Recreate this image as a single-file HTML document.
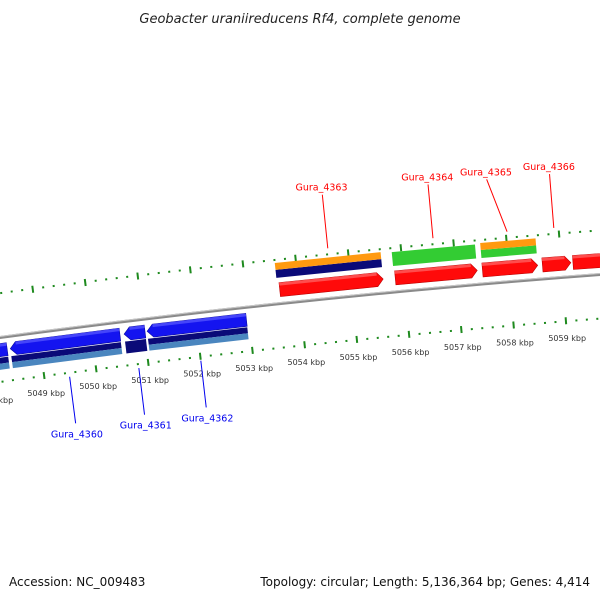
<!DOCTYPE html>
<html><head><meta charset="utf-8">
<style>
html,body{margin:0;padding:0;background:#fff;}
svg{display:block;font-family:"DejaVu Sans","Liberation Sans",sans-serif;}
</style></head>
<body>
<svg id="chart" width="600" height="600" viewBox="0 0 600 600">
<text x="300" y="23" text-anchor="middle" font-size="13" font-style="italic" fill="#222">Geobacter uraniireducens Rf4, complete genome</text>
<text x="9" y="586" font-size="12" fill="#111">Accession: NC_009483</text>
<text x="590" y="586" text-anchor="end" font-size="12" fill="#111">Topology: circular; Length: 5,136,364 bp; Genes: 4,414</text>
<g id="layer"></g>
</svg>
<script>
// ---- data (kbp) ----
const geneNames  = ["prev-gene","Gura_4360","Gura_4361","Gura_4362","Gura_4363","Gura_4364","Gura_4365","Gura_4366","next-gene"];
const geneStart  = [5047.2, 5048.43, 5050.61, 5051.05, 5053.64, 5055.84, 5057.50, 5058.64, 5059.22];
const geneEnd    = [5048.37, 5050.53, 5051.01, 5052.95, 5055.61, 5057.40, 5058.55, 5059.18, 5061.0];
const geneStrand = [-1, -1, -1, -1, 1, 1, 1, 1, 1];
const labelled   = [false, true, true, true, true, true, true, true, false];
// annotation rows (row1 = adjacent to CDS, row2 = outer)
const annStart = [5047.2, 5048.43, 5050.61, 5051.05, 5053.60, 5055.82, 5057.50, 5057.50, 5047.2, 5048.43, 5051.05, 5053.60];
const annEnd   = [5048.37, 5050.53, 5051.01, 5052.95, 5055.61, 5057.40, 5058.55, 5058.55, 5048.37, 5050.53, 5052.95, 5055.61];
const annRow   = [1,1,1,1,1,1,1,2,2,2,2,2];
const annType  = ["navy","navy","navy","navy","navy","green","green","orange","light","light","light","orange"];
const tickStartKbp = 5046;
const tickEndKbp = 5062;

// ---- geometry ----
const CX = 1360, CY = 10396, R = 10150;
const K = 52.7 / R; // rad per kbp
const PHI0 = -0.1150, BP0 = 5052;
function ang(kbp){ return PHI0 + (kbp - BP0) * K; }
function pt(kbp, off){ const a = ang(kbp), r = R + off; return [CX + r*Math.sin(a), CY - r*Math.cos(a)]; }
const NS = "http://www.w3.org/2000/svg";
const layer = document.getElementById('layer');
function mk(tag, attrs){ const e = document.createElementNS(NS, tag); for (const k in attrs) e.setAttribute(k, attrs[k]); layer.appendChild(e); return e; }
function P(a){ return a[0].toFixed(2)+','+a[1].toFixed(2); }

// backbone
(function(){
  let d = '';
  for (let b = 5045; b <= 5063; b += 0.5){ const p = pt(b, 0); d += (d ? 'L' : 'M') + P(p); }
  const e = mk('path', {d: d, fill: 'none', stroke: '#8a8a8a', 'stroke-width': 3});
  
  
  const e2 = mk('path', {d: d, fill: 'none', stroke: '#c8c8c8', 'stroke-width': 1, transform: 'translate(0,-1)'});
  
  
})();

// ticks
for (let i = Math.round(tickStartKbp*5); i <= Math.round(tickEndKbp*5); i++){
  const b = i / 5, major = (i % 5 === 0);
  [[44, 1], [-44, -1]].forEach(function(ring){
    const o = ring[0], s = ring[1];
    const a = major ? pt(b, o - 4*s) : pt(b, o - 1*s);
    const c = major ? pt(b, o + 3*s) : pt(b, o + 1*s);
    const t = mk('line', {x1: a[0], y1: a[1], x2: c[0], y2: c[1], stroke: '#1e8a1e', 'stroke-width': 2});
    
    
  });
  if (major){
    const p = pt(b, -60);
    const tx = mk('text', {x: p[0], y: p[1] + 4, 'text-anchor': 'middle', 'font-size': 8, fill: '#333'});
    tx.textContent = b + ' kbp';
    
    
  }
}

// annotation bars
const annColors = {navy: '#0a0a78', green: '#33cc33', orange: '#ff9a10', light: '#4a86bf'};
for (let i = 0; i < annStart.length; i++){
  const fwd = annStart[i] >= 5053;
  let o1, o2;
  if (fwd){ o1 = annRow[i] === 1 ? 26 : 34; o2 = annRow[i] === 1 ? 34 : 41; }
  else { o1 = annRow[i] === 1 ? -20 : -26; o2 = annRow[i] === 1 ? -26 : -32; }
  if (annType[i] === 'green' && annStart[i] < 5057) o2 = 40;
  if (annType[i] === 'navy' && annStart[i] > 5050.5 && annStart[i] < 5051) o2 = -32;
  const a = pt(annStart[i], o1), b = pt(annEnd[i], o1), c = pt(annEnd[i], o2), d = pt(annStart[i], o2);
  const e = mk('polygon', {points: [a,b,c,d].map(P).join(' '), fill: annColors[annType[i]]});
  
  
}

// genes
for (let i = 0; i < geneStart.length; i++){
  const fwd = geneStrand[i] > 0;
  const o1 = fwd ? 7 : -6, o2 = fwd ? 21 : -19, om = (o1 + o2) / 2;
  const tip = 6 / 52.7;
  let pts;
  if (fwd){
    const s = geneStart[i], e = geneEnd[i], n = e - tip;
    pts = [pt(s,o1), pt(n,o1), pt(e,om), pt(n,o2), pt(s,o2)];
  } else {
    const s = geneStart[i], e = geneEnd[i], n = s + tip;
    pts = [pt(s,om), pt(n,o2), pt(e,o2), pt(e,o1), pt(n,o1)];
  }
  const col = fwd ? '#ff0a0a' : '#1414f0';
  const g = mk('polygon', {points: pts.map(P).join(' '), fill: col, stroke: fwd ? '#c00000' : '#0a0aa0', 'stroke-width': 0.6});
  
  
  const hs = fwd ? geneStart[i] : geneStart[i] + tip, he = fwd ? geneEnd[i] - tip : geneEnd[i];
  const ho = fwd ? o2 : o1, hi = fwd ? o2 - 3 : o1 - 3;
  const h = mk('polygon', {points: [pt(hs,ho),pt(he,ho),pt(he,hi),pt(hs,hi)].map(P).join(' '), fill: fwd ? '#ff6a6a' : '#5a5aff', opacity: 0.7});
  
  
  if (labelled[i]){
    const mid = (geneStart[i] + geneEnd[i]) / 2;
    const lc = fwd ? '#ff0000' : '#0000ee';
    let a, b, tp;
    if (fwd){
      const shift = geneNames[i] === 'Gura_4365' ? -0.3 : 0;
      a = pt(mid, 50); b = pt(mid + shift, 104); tp = pt(mid + shift, 112);
    } else {
      a = pt(mid, -48); b = pt(mid, -95); tp = pt(mid, -105);
    }
    const ln = mk('line', {x1: a[0], y1: a[1], x2: b[0], y2: b[1], stroke: lc, 'stroke-width': 1});
    
    
    const tx = mk('text', {x: tp[0], y: tp[1] + 4, 'text-anchor': 'middle', 'font-size': 9.5, fill: lc});
    tx.textContent = geneNames[i];
    
    
  }
}
</script>
</body></html>
